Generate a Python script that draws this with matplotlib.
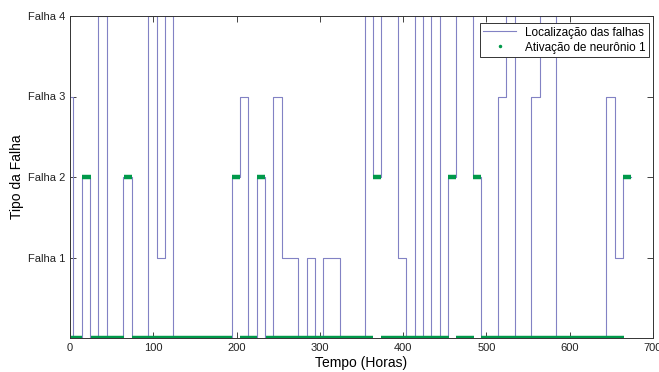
import matplotlib
matplotlib.use('Agg')
import matplotlib.pyplot as plt
from matplotlib.lines import Line2D

plt.rcParams['font.family'] = ['Liberation Sans', 'DejaVu Sans']

# fault location: change times (hours) and level of each segment
t_fault = [0, 4, 14, 24, 34, 44, 64, 74, 94, 104, 114, 124,
           194, 204, 214, 224, 234, 244, 254, 274, 284, 294, 304, 324,
           354, 364, 374, 394, 404, 414, 424, 434, 444, 454, 464, 484,
           494, 514, 524, 534, 554, 564, 584, 644, 654, 664, 674]
fault_level = [3, 0, 2, 0, 4, 0, 2, 0, 4, 1, 4, 0,
               2, 3, 0, 2, 0, 3, 1, 0, 1, 0, 1, 0,
               4, 2, 4, 1, 0, 4, 0, 4, 0, 2, 4, 2,
               0, 3, 4, 0, 3, 4, 0, 3, 1, 2]

# neuron 1 activation: segments (start, end, level)
act_start = [1, 15, 25, 65, 75, 194, 204, 224, 235, 364, 374, 454, 464, 484, 494, 664]
act_end = [15, 25, 65, 75, 194, 204, 225, 234, 364, 374, 455, 464, 485, 494, 665, 674]
act_level = [0, 2, 0, 2, 0, 2, 0, 2, 0, 2, 0, 2, 0, 2, 0, 2]

x_ticks = [0, 100, 200, 300, 400, 500, 600, 700]
y_ticks = [1, 2, 3, 4]
y_labels = ['Falha 1', 'Falha 2', 'Falha 3', 'Falha 4']

blue = '#8282c4'
green = '#00994a'

fig = plt.figure(figsize=(6.59, 3.72), dpi=100)
ax = fig.add_axes([70/659, 1 - 338/372, 583/659, 322/372])

ax.step(t_fault, fault_level + [fault_level[-1]], where='post', color=blue, lw=0.8)
ax.hlines(act_level, act_start, act_end, color=green, lw=3.2)

ax.set_xlim(0, 700)
ax.set_ylim(0, 4)
ax.set_xticks(x_ticks)
ax.set_yticks(y_ticks)
ax.set_yticklabels(y_labels)
ax.tick_params(direction='in', top=True, right=True, length=4, width=0.6,
               labelsize=8, colors='#222222')
for s in ax.spines.values():
    s.set_linewidth(0.7)
    s.set_color('#333333')

ax.set_xlabel('Tempo (Horas)', fontsize=10, labelpad=2)
ax.set_ylabel('Tipo da Falha', fontsize=10, labelpad=3)

handles = [Line2D([], [], color=blue, lw=0.8),
           Line2D([], [], color=green, ls='none', marker='.', markersize=3)]
leg = ax.legend(handles, ['Localização das falhas', 'Ativação de neurônio 1'],
                loc='upper right', bbox_to_anchor=(0.993, 0.978), borderaxespad=0,
                fontsize=8.5, fancybox=False, framealpha=1, edgecolor='#333333',
                handlelength=2.8, handletextpad=0.7, borderpad=0.3, labelspacing=0.25)
leg.get_frame().set_linewidth(0.7)

fig.savefig('out.png', dpi=100)
